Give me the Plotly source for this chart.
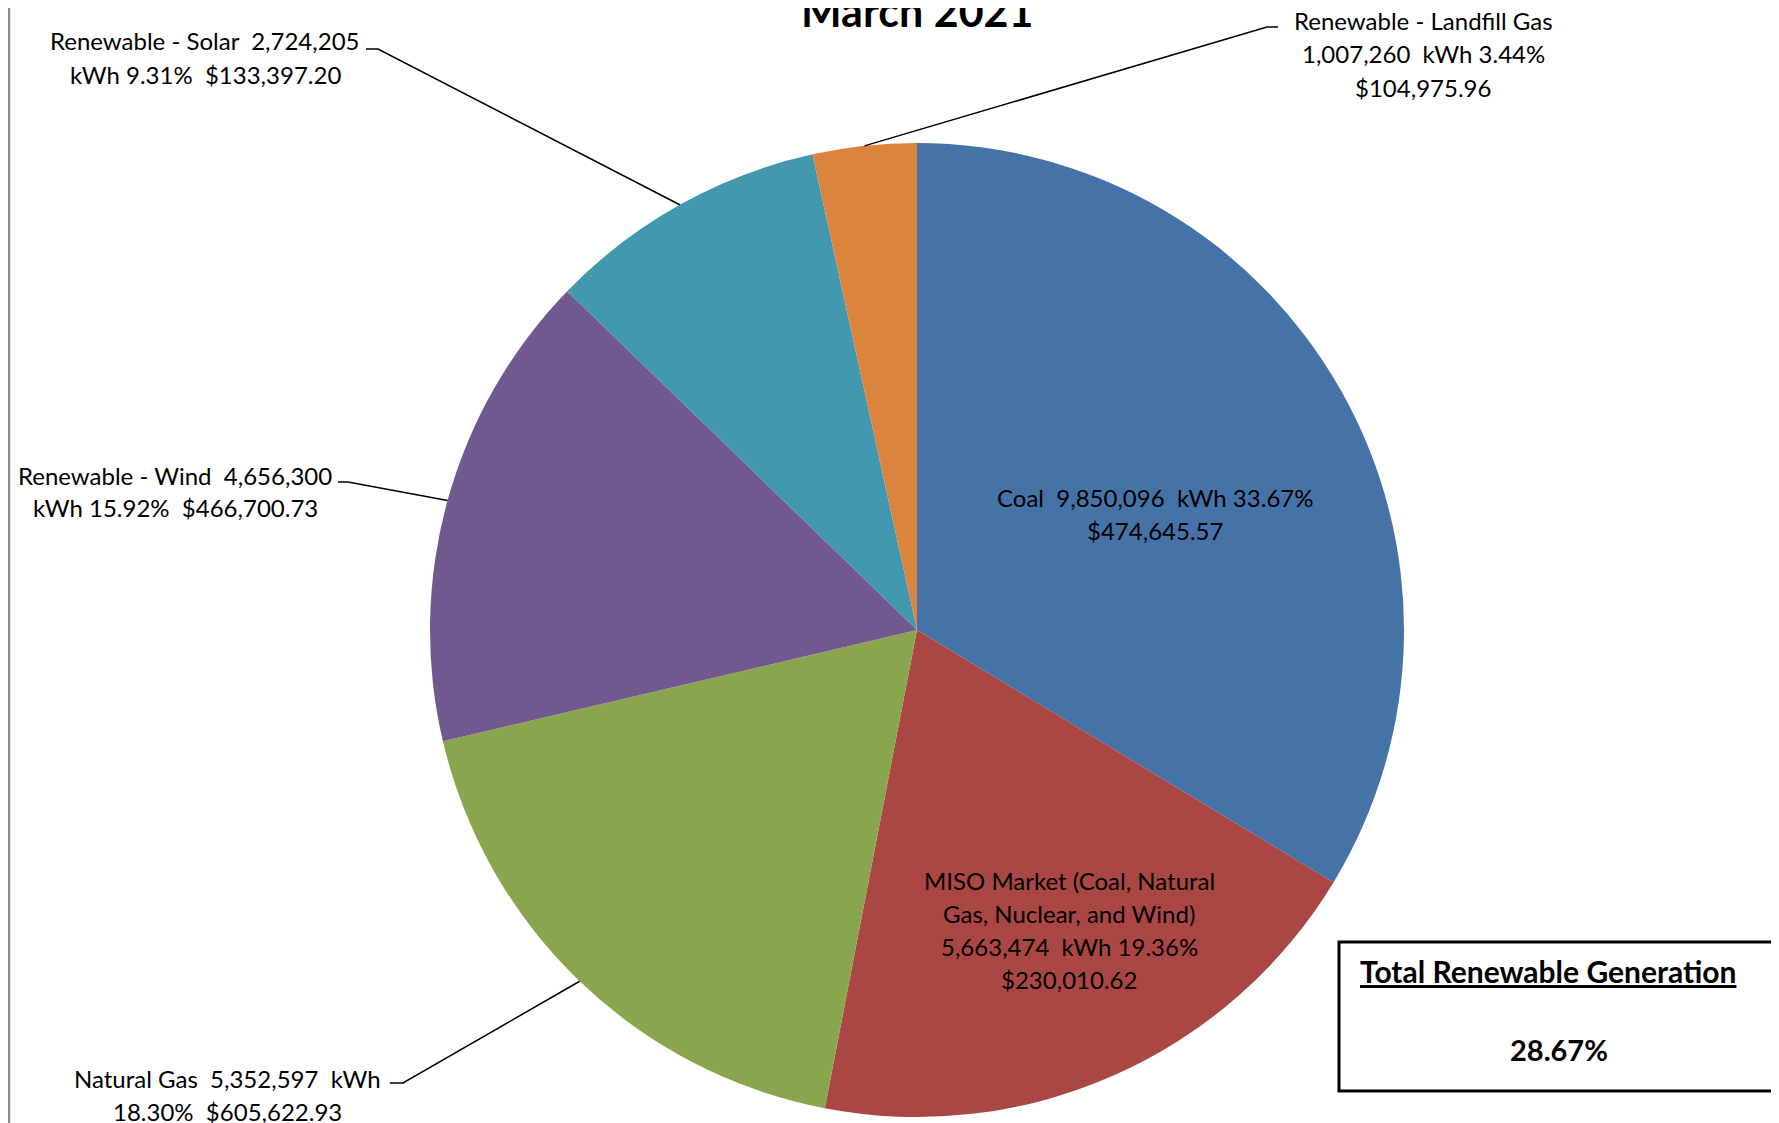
import math
import plotly.graph_objects as go

# ---------------- data ----------------
categories = ["Coal", "MISO Market (Coal, Natural Gas, Nuclear, and Wind)", "Natural Gas",
              "Renewable - Wind", "Renewable - Solar", "Renewable - Landfill Gas"]
kwh = [9850096, 5663474, 5352597, 4656300, 2724205, 1007260]
cost = [474645.57, 230010.62, 605622.93, 466700.73, 133397.20, 104975.96]
colors = ["#4572A7", "#AA4643", "#89A54E", "#71588F", "#4198AF", "#DB843D"]
renewable = [False, False, False, True, True, True]
title_text = "March 2021"
box_title = "Total Renewable Generation"

total = sum(kwh)
pct = [v / total * 100 for v in kwh]
ren_pct = sum(v for v, r in zip(kwh, renewable) if r) / total * 100

def fk(v):
    return f"{v:,}"

def fc(v):
    return f"${v:,.2f}"

# label lines (text content built from data)
label_lines = [
    [f"Coal  {fk(kwh[0])}  kWh {pct[0]:.2f}%", fc(cost[0])],
    ["MISO Market (Coal, Natural", "Gas, Nuclear, and Wind)",
     f"{fk(kwh[1])}  kWh {pct[1]:.2f}%", fc(cost[1])],
    [f"Natural Gas  {fk(kwh[2])}  kWh", f"{pct[2]:.2f}%  {fc(cost[2])}"],
    [f"Renewable - Wind  {fk(kwh[3])}", f"kWh {pct[3]:.2f}%  {fc(cost[3])}"],
    [f"Renewable - Solar  {fk(kwh[4])}", f"kWh {pct[4]:.2f}%  {fc(cost[4])}"],
    ["Renewable - Landfill Gas", f"{fk(kwh[5])}  kWh {pct[5]:.2f}%", fc(cost[5])],
]

# ---------------- layout constants (pixels, page coordinates) ----------------
W, H = 1779, 1123
OFF = 8  # page margin around the plot div
cx, cy, R = 917, 630, 487
FONT = "Lato"
FS = 24
LINE = 33

def px(x):
    return (x - OFF) / W

def py(y):
    return 1 - (y - OFF) / H

# label block: (center x, first line center y)
label_pos = [(1155, 497), (1069, 880), (227, 1078), (175, 475), (205, 41), (1423, 21)]
# leader lines: (elbow, end) in px, None for inside labels
leaders = [None, None,
           ((403, 1083), (390, 1083)),
           ((348, 482), (338, 482)),
           ((378, 49), (366, 49)),
           ((1267, 27), (1278, 27))]

fig = go.Figure()
fig.add_trace(go.Pie(
    labels=categories, values=kwh, sort=False, direction="clockwise", rotation=0,
    marker=dict(colors=colors, line=dict(width=0)),
    textinfo="none", hoverinfo="label+value+percent", showlegend=False,
    domain=dict(x=[px(cx - R), px(cx + R)], y=[py(cy + R), py(cy - R)]),
))

annotations = []
shapes = []
cum = 0
for i, v in enumerate(kwh):
    mid = (cum + v / 2) / total * 2 * math.pi
    cum += v
    for j, line in enumerate(label_lines[i]):
        lx, ly = label_pos[i]
        annotations.append(dict(
            x=px(lx), y=py(ly + j * LINE), xref="paper", yref="paper",
            text=line, showarrow=False, xanchor="center", yanchor="middle",
            font=dict(family=FONT, size=FS, color="#000000")))
    if leaders[i] is not None:
        ex = cx + R * math.sin(mid)
        ey = cy - R * math.cos(mid)
        (bx, by), (tx, ty) = leaders[i]
        shapes.append(dict(
            type="path", xref="paper", yref="paper",
            path=f"M {px(ex)},{py(ey)} L {px(bx)},{py(by)} L {px(tx)},{py(ty)}",
            line=dict(color="#000000", width=1.5)))

# title
annotations.append(dict(
    x=px(cx), y=py(38), xref="paper", yref="paper", text=f"<b>{title_text}</b>",
    showarrow=False, xanchor="center", yanchor="bottom",
    font=dict(family=FONT, size=43, color="#000000")))

# renewable box
shapes.append(dict(type="rect", xref="paper", yref="paper",
                   x0=px(1339), x1=px(1777), y0=py(1091), y1=py(942),
                   line=dict(color="#000000", width=3)))
annotations.append(dict(
    x=px(1548), y=py(971), xref="paper", yref="paper", text=f"<b>{box_title}</b>",
    showarrow=False, xanchor="center", yanchor="middle",
    font=dict(family=FONT, size=30, color="#000000", lineposition="under")))
annotations.append(dict(
    x=px(1559), y=py(1049), xref="paper", yref="paper", text=f"<b>{ren_pct:.2f}%</b>",
    showarrow=False, xanchor="center", yanchor="middle",
    font=dict(family=FONT, size=29, color="#000000")))

# left chart-area border
shapes.append(dict(type="line", xref="paper", yref="paper",
                   x0=1 / W, x1=1 / W, y0=0, y1=1,
                   line=dict(color="#8C8C8C", width=2.5)))

fig.update_layout(
    width=W, height=H, margin=dict(l=0, r=0, t=0, b=0),
    paper_bgcolor="#FFFFFF", plot_bgcolor="#FFFFFF",
    annotations=annotations, shapes=shapes,
)

fig.write_html("out.html")
